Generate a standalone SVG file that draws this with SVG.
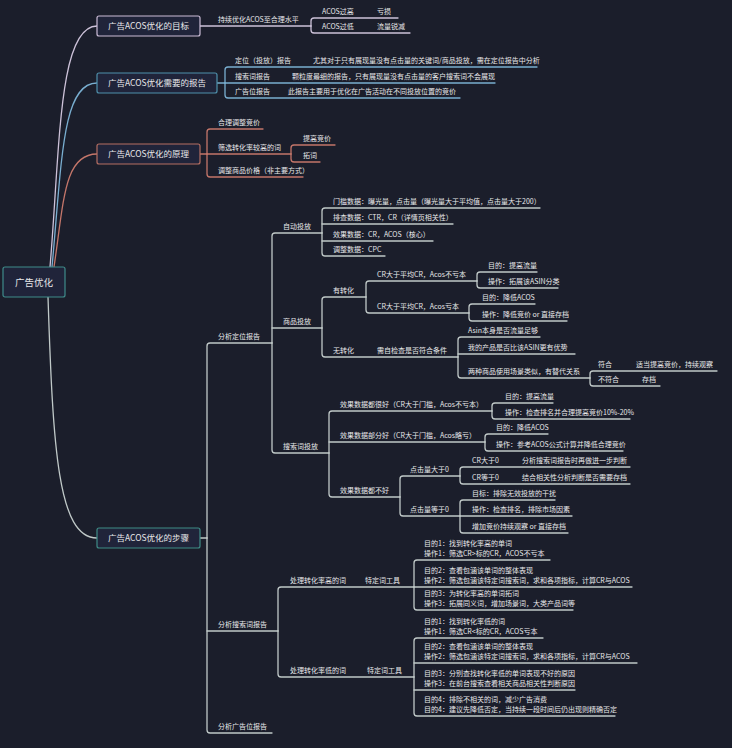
<svg xmlns="http://www.w3.org/2000/svg" width="732" height="748" viewBox="0 0 732 748">
<style>
text{font-family:"Noto Sans CJK SC","Noto Sans",sans-serif;fill:#e8e8ea;font-size:7px}
.bt{font-size:8.5px;text-anchor:middle}
.rt{font-size:9.5px;text-anchor:middle}
.box{fill:#20243a;stroke-width:1.2}
#connectors path{fill:none;stroke-width:1.3;stroke-linecap:round}
.c1{stroke:#cdc2d9}
.c2{stroke:#79aed0}
.c3{stroke:#c4766a}
.c4{stroke:#c0c9c8}
</style>
<rect width="732" height="748" fill="#1b1e2b"/>
<g id="connectors">
<g class="c1">
<path d="M50,267 C60,150 58,26 97,26"/>
<path d="M200,26 H311"/>
<path d="M311,26 V21 Q311,18 314,18 H398"/>
<path d="M311,26 V30 Q311,33 314,33 H410"/>
</g>
<g class="c2">
<path d="M52,267 C62,160 62,83 97,83"/>
<path d="M217,83 H225"/>
<path d="M225,83 V70 Q225,67 228,67 H537"/>
<path d="M225,83 H495"/>
<path d="M225,83 V95 Q225,98 228,98 H460"/>
</g>
<g class="c3">
<path d="M54,267 C64,200 64,154 97,154"/>
<path d="M200,154 H207"/>
<path d="M207,154 V132 Q207,129 210,129 H263"/>
<path d="M207,154 H291"/>
<path d="M207,154 V174 Q207,177 210,177 H303"/>
<path d="M291,154 V148 Q291,145 294,145 H335"/>
<path d="M291,154 V159 Q291,162 294,162 H320"/>
</g>
<g class="c4">
<path d="M48,297 C53,450 58,538 97,538"/>
<path d="M200,538 H207"/>
<path d="M207,538 V346 Q207,343 210,343 H272"/>
<path d="M207,631 H278"/>
<path d="M207,538 V730 Q207,733 210,733 H272"/>
<path d="M272,343 V236 Q272,233 275,233 H322"/>
<path d="M272,328 H322"/>
<path d="M272,343 V450 Q272,453 275,453 H329"/>
<path d="M322,233 V211 Q322,208 325,208 H540"/>
<path d="M322,224 H453"/>
<path d="M322,241 H433"/>
<path d="M322,233 V253 Q322,256 325,256 H385"/>
<path d="M322,328 V300 Q322,297 325,297 H366"/>
<path d="M322,328 V354 Q322,357 325,357 H458"/>
<path d="M366,297 V284 Q366,281 369,281 H477"/>
<path d="M366,297 V310 Q366,313 369,313 H469"/>
<path d="M477,281 V275 Q477,272 480,272 H537"/>
<path d="M477,281 V285 Q477,288 480,288 H558"/>
<path d="M469,313 V307 Q469,304 472,304 H535"/>
<path d="M469,313 V318 Q469,321 472,321 H567"/>
<path d="M458,357 V340 Q458,337 461,337 H540"/>
<path d="M458,354 H575"/>
<path d="M458,357 V375 Q458,378 461,378 H590"/>
<path d="M590,378 V374 Q590,371 593,371 H717"/>
<path d="M590,378 V383 Q590,386 593,386 H660"/>
<path d="M329,453 V414 Q329,411 332,411 H492"/>
<path d="M329,442 H485"/>
<path d="M329,453 V494 Q329,497 332,497 H400"/>
<path d="M492,411 V406 Q492,403 495,403 H553"/>
<path d="M492,411 V416 Q492,419 495,419 H630"/>
<path d="M485,442 V437 Q485,434 488,434 H548"/>
<path d="M485,442 V448 Q485,451 488,451 H623"/>
<path d="M400,497 V479 Q400,476 403,476 H460"/>
<path d="M400,497 V513 Q400,516 403,516 H460"/>
<path d="M460,476 V470 Q460,467 463,467 H630"/>
<path d="M460,476 V481 Q460,484 463,484 H630"/>
<path d="M460,516 V503 Q460,500 463,500 H555"/>
<path d="M460,516 H572"/>
<path d="M460,516 V530 Q460,533 463,533 H568"/>
<path d="M278,631 V590 Q278,587 281,587 H414"/>
<path d="M278,631 V674 Q278,677 281,677 H414"/>
<path d="M414,587 V563 Q414,560 417,560 H550"/>
<path d="M414,587 H632"/>
<path d="M414,587 V607 Q414,610 417,610 H573"/>
<path d="M414,677 V641 Q414,638 417,638 H543"/>
<path d="M414,663 H637"/>
<path d="M414,690 H575"/>
<path d="M414,677 V713 Q414,716 417,716 H615"/>
</g>
</g>
<g id="root"><rect class="box" x="3" y="267" width="62" height="30" rx="2" stroke="#3f8b8a"/><text class="rt" x="34" y="285.5">广告优化</text></g>
<g id="goal"><rect class="box" x="97" y="16" width="103" height="20" rx="2" stroke="#cbbcd6"/><text class="bt" x="148.5" y="29">广告ACOS优化的目标</text></g>
<g id="reports"><rect class="box" x="97" y="73" width="120" height="20" rx="2" stroke="#4f90ab"/><text class="bt" x="157" y="86">广告ACOS优化需要的报告</text></g>
<g id="principle"><rect class="box" x="97" y="144" width="103" height="20" rx="2" stroke="#b56e62"/><text class="bt" x="148.5" y="157">广告ACOS优化的原理</text></g>
<g id="steps"><rect class="box" x="97" y="528" width="103" height="20" rx="2" stroke="#3f8b86"/><text class="bt" x="148.5" y="541">广告ACOS优化的步骤</text></g>

<g id="g1"><text x="218" y="21.5">持续优化ACOS至合理水平</text></g>
<g id="g1a"><text x="322" y="13.5">ACOS过高</text></g>
<g id="g1a1"><text x="377" y="13.5">亏损</text></g>
<g id="g1b"><text x="322" y="28.5">ACOS过低</text></g>
<g id="g1b1"><text x="377" y="28.5">流量锐减</text></g>

<g id="r1"><text x="235" y="62.5">定位（投放）报告</text></g>
<g id="r1a"><text x="313" y="62.5">尤其对于只有展现量没有点击量的关键词/商品投放，需在定位报告中分析</text></g>
<g id="r2"><text x="235" y="78.5">搜索词报告</text></g>
<g id="r2a"><text x="292" y="78.5">颗粒度最细的报告，只有展现量没有点击量的客户搜索词不会展现</text></g>
<g id="r3"><text x="235" y="93.5">广告位报告</text></g>
<g id="r3a"><text x="288" y="93.5">此报告主要用于优化在广告活动在不同投放位置的竞价</text></g>

<g id="p1"><text x="218" y="124.5">合理调整竞价</text></g>
<g id="p2"><text x="218" y="149.5">筛选转化率较高的词</text></g>
<g id="p2a"><text x="303" y="140.5">提高竞价</text></g>
<g id="p2b"><text x="303" y="157.5">拓词</text></g>
<g id="p3"><text x="218" y="172.5">调整商品价格（非主要方式）</text></g>

<g id="s1"><text x="218" y="338.5">分析定位报告</text></g>
<g id="s2"><text x="218" y="626.5">分析搜索词报告</text></g>
<g id="s3"><text x="218" y="728.5">分析广告位报告</text></g>

<g id="s1a"><text x="283" y="228.5">自动投放</text></g>
<g id="s1a1"><text x="333" y="203.5">门槛数据：曝光量，点击量（曝光量大于平均值，点击量大于200）</text></g>
<g id="s1a2"><text x="333" y="219.5">排查数据：CTR，CR（详情页相关性）</text></g>
<g id="s1a3"><text x="333" y="236.5">效果数据：CR，ACOS（核心）</text></g>
<g id="s1a4"><text x="333" y="251.5">调整数据：CPC</text></g>

<g id="s1b"><text x="283" y="323.5">商品投放</text></g>
<g id="s1b1"><text x="333" y="292.5">有转化</text></g>
<g id="s1b1a"><text x="377" y="276.5">CR大于平均CR，Acos不亏本</text></g>
<g id="s1b1a1"><text x="488" y="267.5">目的：提高流量</text></g>
<g id="s1b1a2"><text x="488" y="283.5">操作：拓展该ASIN分类</text></g>
<g id="s1b1b"><text x="377" y="308.5">CR大于平均CR，Acos亏本</text></g>
<g id="s1b1b1"><text x="482" y="299.5">目的：降低ACOS</text></g>
<g id="s1b1b2"><text x="482" y="316.5">操作：降低竞价 or 直接存档</text></g>
<g id="s1b2"><text x="333" y="352.5">无转化</text></g>
<g id="s1b2a"><text x="377" y="352.5">需自检查是否符合条件</text></g>
<g id="s1b2a1"><text x="468" y="332.5">Asin本身是否流量足够</text></g>
<g id="s1b2a2"><text x="468" y="349.5">我的产品是否比该ASIN更有优势</text></g>
<g id="s1b2a3"><text x="468" y="373.5">两种商品使用场景类似，有替代关系</text></g>
<g id="s1b2a3a"><text x="598" y="366.5">符合</text></g>
<g id="s1b2a3a1"><text x="636" y="366.5">适当提高竞价，持续观察</text></g>
<g id="s1b2a3b"><text x="598" y="381.5">不符合</text></g>
<g id="s1b2a3b1"><text x="642" y="381.5">存档</text></g>

<g id="s1c"><text x="283" y="448.5">搜索词投放</text></g>
<g id="s1c1"><text x="340" y="406.5">效果数据都很好（CR大于门槛，Acos不亏本）</text></g>
<g id="s1c1a"><text x="505" y="398.5">目的：提高流量</text></g>
<g id="s1c1b"><text x="505" y="414.5">操作：检查排名并合理提高竞价10%-20%</text></g>
<g id="s1c2"><text x="340" y="437.5">效果数据部分好（CR大于门槛，Acos略亏）</text></g>
<g id="s1c2a"><text x="496" y="429.5">目的：降低ACOS</text></g>
<g id="s1c2b"><text x="496" y="446.5">操作：参考ACOS公式计算并降低合理竞价</text></g>
<g id="s1c3"><text x="340" y="492.5">效果数据都不好</text></g>
<g id="s1c3a"><text x="410" y="471.5">点击量大于0</text></g>
<g id="s1c3a1"><text x="472" y="462.5">CR大于0</text></g>
<g id="s1c3a1v"><text x="522" y="462.5">分析搜索词报告时再做进一步判断</text></g>
<g id="s1c3a2"><text x="472" y="479.5">CR等于0</text></g>
<g id="s1c3a2v"><text x="522" y="479.5">结合相关性分析判断是否需要存档</text></g>
<g id="s1c3b"><text x="410" y="511.5">点击量等于0</text></g>
<g id="s1c3b1"><text x="472" y="495.5">目标：排除无效投放的干扰</text></g>
<g id="s1c3b2"><text x="472" y="511.5">操作：检查排名，排除市场因素</text></g>
<g id="s1c3b3"><text x="472" y="528.5">增加竞价持续观察 or 直接存档</text></g>

<g id="s2a"><text x="290" y="582.5">处理转化率高的词</text></g>
<g id="s2a1"><text x="365" y="582.5">特定词工具</text></g>
<g id="s2a1a"><text x="424" y="546"><tspan x="424">目的1：找到转化率高的单词</tspan><tspan x="424" dy="9.5">操作1：筛选CR&gt;标的CR，ACOS不亏本</tspan></text></g>
<g id="s2a1b"><text x="424" y="573"><tspan x="424">目的2：查看包涵该单词的整体表现</tspan><tspan x="424" dy="9.5">操作2：筛选包涵该特定词搜索词，求和各项指标，计算CR与ACOS</tspan></text></g>
<g id="s2a1c"><text x="424" y="596"><tspan x="424">目的3：为转化率高的单词拓词</tspan><tspan x="424" dy="9.5">操作3：拓展同义词，增加场景词，大类产品词等</tspan></text></g>

<g id="s2b"><text x="290" y="672.5">处理转化率低的词</text></g>
<g id="s2b1"><text x="367" y="672.5">特定词工具</text></g>
<g id="s2b1a"><text x="424" y="624"><tspan x="424">目的1：找到转化率低的词</tspan><tspan x="424" dy="9.5">操作1：筛选CR&lt;标的CR，ACOS亏本</tspan></text></g>
<g id="s2b1b"><text x="424" y="649"><tspan x="424">目的2：查看包涵该单词的整体表现</tspan><tspan x="424" dy="9.5">操作2：筛选包涵该特定词搜索词，求和各项指标，计算CR与ACOS</tspan></text></g>
<g id="s2b1c"><text x="424" y="676"><tspan x="424">目的3：分别查找转化率低的单词表现不好的原因</tspan><tspan x="424" dy="9.5">操作3：在前台搜索查看相关商品相关性判断原因</tspan></text></g>
<g id="s2b1d"><text x="424" y="702"><tspan x="424">目的4：排除不相关的词，减少广告消费</tspan><tspan x="424" dy="9.5">目的4：建议先降低否定，当持续一段时间后仍出现则精确否定</tspan></text></g>
</svg>
